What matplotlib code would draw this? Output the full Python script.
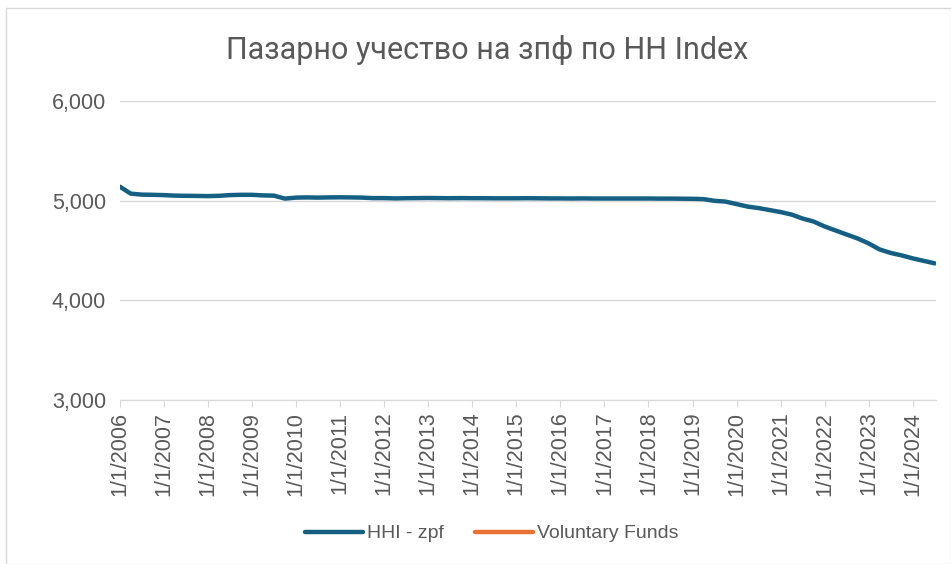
# HHI index chart for zpf (2006 - 2024)
import pandas as pd
import matplotlib.pyplot as plt
from matplotlib.patches import Rectangle
from matplotlib.ticker import FuncFormatter

plt.rcParams['font.family'] = ['Liberation Sans', 'DejaVu Sans']

# quarterly readings of the HHI (zpf)
dates = pd.date_range('2006-01-01', '2024-07-01', freq='QS')
hhi_zpf = [
    5140, 5070, 5060, 5058,   # 2006
    5055, 5050, 5048, 5047,   # 2007
    5045, 5048, 5055, 5058,   # 2008
    5058, 5052, 5050, 5020,   # 2009
    5030, 5032, 5030, 5032,   # 2010
    5033, 5032, 5030, 5025,   # 2011
    5025, 5022, 5024, 5025,   # 2012
    5026, 5025, 5024, 5025,   # 2013
    5024, 5024, 5023, 5023,   # 2014
    5023, 5024, 5023, 5022,   # 2015
    5022, 5021, 5022, 5021,   # 2016
    5021, 5021, 5021, 5021,   # 2017
    5021, 5020, 5020, 5019,   # 2018
    5018, 5015, 4998, 4990,   # 2019
    4965, 4940, 4925, 4905,   # 2020
    4885, 4860, 4820, 4790,   # 2021
    4740, 4700, 4660, 4620,   # 2022
    4570, 4510, 4475, 4450,   # 2023
    4420, 4395, 4370,         # 2024
]
voluntary_funds = []  # shown only in the legend

title = 'Пазарно учество на зпф по HH Index'
tick_years = list(range(2006, 2025))

fig = plt.figure(figsize=(9.51, 5.64), dpi=100)
fig.patches.append(Rectangle((0.006, 0.0), 0.994, 0.985, transform=fig.transFigure,
                             fill=False, edgecolor='#D9D9D9', linewidth=1))
ax = fig.add_axes([0.126, 0.291, 0.858, 0.530])

ax.plot(dates, hhi_zpf, color='#156082', linewidth=3.2, solid_capstyle='round',
        label='HHI - zpf')
ax.plot(dates[:len(voluntary_funds)], voluntary_funds, color='#E97132',
        linewidth=3.2, solid_capstyle='round', label='Voluntary Funds')

ax.set_ylim(3000, 6000)
ax.set_yticks([3000, 4000, 5000, 6000])
ax.yaxis.set_major_formatter(FuncFormatter(lambda v, p: f'{v:,.0f}'))
ax.grid(axis='y', color='#D9D9D9', linewidth=1)
ax.set_axisbelow(True)

ticks = [pd.Timestamp(f'{y}-01-01') for y in tick_years]
ax.set_xticks(ticks)
ax.set_xticklabels([f'1/1/{y}' for y in tick_years], rotation=90)
ax.set_xlim(pd.Timestamp('2006-01-01'), pd.Timestamp('2024-07-10'))

for s in ['top', 'right', 'left']:
    ax.spines[s].set_visible(False)
ax.spines['bottom'].set_color('#D9D9D9')
ax.tick_params(axis='x', colors='#D9D9D9', labelcolor='#595959', length=5,
               labelsize=15.5)
ax.tick_params(axis='y', length=0, labelcolor='#595959', labelsize=15.5, pad=10)

fig.text(0.512, 0.912, title, ha='center', va='center', fontsize=22,
         color='#595959', family=['Roboto', 'DejaVu Sans'])

fig.legend(loc='center', bbox_to_anchor=(0.517, 0.054), ncol=2, frameon=False,
           fontsize=14, labelcolor='#595959', handlelength=3.0,
           handletextpad=0.2, columnspacing=1.6)

fig.savefig('out.png', dpi=100)
